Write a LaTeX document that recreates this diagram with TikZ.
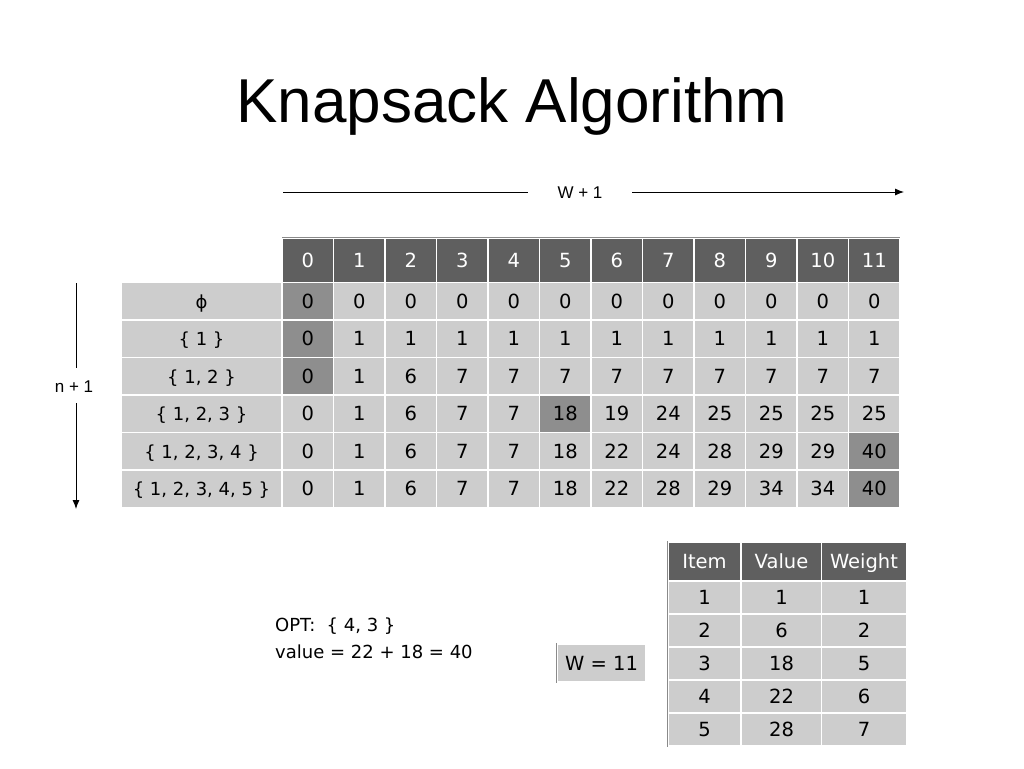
\documentclass[tikz,border=0pt]{standalone}
\usepackage{fontspec}
\setmainfont{DejaVu Sans}
\newfontfamily\titlefont{Liberation Sans}
\usetikzlibrary{arrows.meta}
\definecolor{hdr}{HTML}{5F5F5F}
\definecolor{cellgray}{HTML}{CDCDCD}
\definecolor{hlgray}{HTML}{8E8E8E}
\definecolor{rulegray}{HTML}{8A8A8A}
\begin{document}
\begin{tikzpicture}[x=1pt,y=-1pt,
  cellbase/.style={draw=white,line width=1.6pt,inner sep=0pt,anchor=center,text height=14pt,text depth=0pt,font=\fontsize{19.5}{19.5}\selectfont},
  cell/.style={cellbase,fill=cellgray,minimum width=51.5pt,minimum height=37.5pt,text=black},
  hcell/.style={cellbase,fill=hdr,minimum width=51.5pt,minimum height=44pt,text=white},
  lcell/.style={cellbase,fill=cellgray,minimum width=161pt,minimum height=37.5pt,text=black,font=\fontsize{18}{18}\selectfont},
  hl 0-0/.style={fill=hlgray}, hl 1-0/.style={fill=hlgray}, hl 2-0/.style={fill=hlgray},
  hl 3-5/.style={fill=hlgray}, hl 4-11/.style={fill=hlgray}, hl 5-11/.style={fill=hlgray},
  scell/.style={cellbase,fill=cellgray,minimum height=33pt,text=black},
  shcell/.style={cellbase,fill=hdr,minimum height=39pt,text=white},
  dimarrow/.style={line width=0.9pt,-{Latex[length=9pt,width=7pt]}},
  dimline/.style={line width=0.9pt},
  dimlabel/.style={font=\titlefont\fontsize{17}{17}\selectfont,inner sep=2pt},
  plain/.style={anchor=base west,font=\fontsize{18}{18}\selectfont,inner sep=0pt}]
\useasboundingbox[fill=white] (0,0) rectangle (1024,768);

% title
\node[font=\titlefont\fontsize{62}{62}\selectfont,anchor=base] (title) at (512,122) {Knapsack Algorithm};

% W+1 arrow
\coordinate (wstart) at (283,192);
\coordinate (wend) at (904,192);
\node[dimlabel] (wlab) at (580,193) {W + 1};
\draw[dimline] (wstart) -- (528,192);
\draw[dimarrow] (632,192) -- (wend);

% n+1 arrow
\coordinate (nstart) at (76,283);
\coordinate (nend) at (76,509);
\node[dimlabel] (nlab) at (74,387) {n + 1};
\draw[dimline] (nstart) -- (76,368);
\draw[dimarrow] (76,403) -- (nend);

% header line
\draw[rulegray,line width=1pt] (282,237.5) -- (900,237.5);

% header row
\foreach \h [count=\c from 0] in {0,1,2,3,4,5,6,7,8,9,10,11}
  \node[hcell] (h-\c) at ({282+51.5*(\c+0.5)},260.5) {\h};

% row labels
\foreach \lab [count=\r from 0] in {ϕ,{\{ 1 \}},{\{ 1, 2 \}},{\{ 1, 2, 3 \}},{\{ 1, 2, 3, 4 \}},{\{ 1, 2, 3, 4, 5 \}}}
  \node[lcell] (l-\r) at (201.5,{301.25+37.5*\r}) {\lab};

% body
\foreach \r/\vals in {0/{0,0,0,0,0,0,0,0,0,0,0,0},
                      1/{0,1,1,1,1,1,1,1,1,1,1,1},
                      2/{0,1,6,7,7,7,7,7,7,7,7,7},
                      3/{0,1,6,7,7,18,19,24,25,25,25,25},
                      4/{0,1,6,7,7,18,22,24,28,29,29,40},
                      5/{0,1,6,7,7,18,22,28,29,34,34,40}}
  \foreach \v [count=\c from 0] in \vals
    \node[cell,hl \r-\c/.try] (m-\r-\c) at ({282+51.5*(\c+0.5)},{301.25+37.5*\r}) {\v};

% OPT text
\node[plain] (opt) at (275,631) {OPT:\ \ \{ 4, 3 \}};
\node[plain] (val) at (275,658) {value = 22 + 18 = 40};

% W = 11 box
\node[scell,minimum width=89pt,minimum height=38pt] (wbox) at (601.5,663) {W = 11};
\draw[rulegray,line width=1pt] (wbox.north west) -- (wbox.south west);

% item table
\foreach \t/\xc/\w [count=\c] in {Item/704.5/73,Value/781.5/81,Weight/864/85}
  \node[shcell,minimum width=\w pt] (ih-\c) at (\xc,561.5) {\t};
\foreach \a/\b/\d [count=\r] in {1/1/1,2/6/2,3/18/5,4/22/6,5/28/7}{
  \node[scell,minimum width=73pt] (it-\r-1) at (704.5,{564.5+33*\r}) {\a};
  \node[scell,minimum width=81pt] (it-\r-2) at (781.5,{564.5+33*\r}) {\b};
  \node[scell,minimum width=85pt] (it-\r-3) at (864,{564.5+33*\r}) {\d};
}
\draw[rulegray,line width=1pt] (ih-1.north west) -- (it-5-1.south west);
\end{tikzpicture}
\end{document}
